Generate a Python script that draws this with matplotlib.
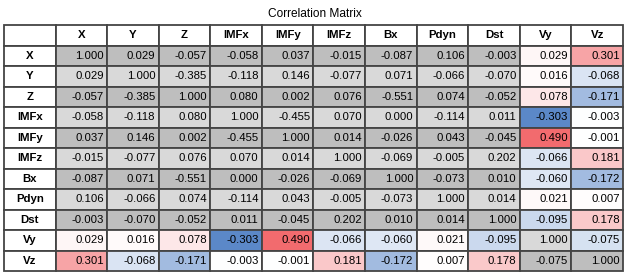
import numpy as np
import matplotlib
matplotlib.use('Agg')
import matplotlib.pyplot as plt
from matplotlib.colors import LinearSegmentedColormap, TwoSlopeNorm

plt.rcParams['font.family'] = ['Liberation Sans', 'DejaVu Sans']

names = ['X', 'Y', 'Z', 'IMFx', 'IMFy', 'IMFz', 'Bx', 'Pdyn', 'Dst', 'Vy', 'Vz']

corr = np.array([
    [1.000, 0.029, -0.057, -0.058, 0.037, -0.015, -0.087, 0.106, -0.003, 0.029, 0.301],
    [0.029, 1.000, -0.385, -0.118, 0.146, -0.077, 0.071, -0.066, -0.070, 0.016, -0.068],
    [-0.057, -0.385, 1.000, 0.080, 0.002, 0.076, -0.551, 0.074, -0.052, 0.078, -0.171],
    [-0.058, -0.118, 0.080, 1.000, -0.455, 0.070, 0.000, -0.114, 0.011, -0.303, -0.003],
    [0.037, 0.146, 0.002, -0.455, 1.000, 0.014, -0.026, 0.043, -0.045, 0.490, -0.001],
    [-0.015, -0.077, 0.076, 0.070, 0.014, 1.000, -0.069, -0.005, 0.202, -0.066, 0.181],
    [-0.087, 0.071, -0.551, 0.000, -0.026, -0.069, 1.000, -0.073, 0.010, -0.060, -0.172],
    [0.106, -0.066, 0.074, -0.114, 0.043, -0.005, -0.073, 1.000, 0.014, 0.021, 0.007],
    [-0.003, -0.070, -0.052, 0.011, -0.045, 0.202, 0.010, 0.014, 1.000, -0.095, 0.178],
    [0.029, 0.016, 0.078, -0.303, 0.490, -0.066, -0.060, 0.021, -0.095, 1.000, -0.075],
    [0.301, -0.068, -0.171, -0.003, -0.001, 0.181, -0.172, 0.007, 0.178, -0.075, 1.000],
])

# cells that get the gray background (rest are colour coded)
n_feat = 9
gray_extra = [(9, 9), (10, 9), (10, 10)]

dark_gray = '#bebebe'
light_gray = '#d9d9d9'
cmap = LinearSegmentedColormap.from_list('bwr_soft', ['#5b88c8', '#ffffff', '#f26b6e'])

n = len(names)
colored = np.ones((n, n), dtype=bool)
colored[:n_feat, :n_feat] = False
for r, c in gray_extra:
    colored[r, c] = False
norm = TwoSlopeNorm(vmin=corr[colored].min(), vcenter=0.0, vmax=corr[colored].max())

cell_text = [[''] + names]
cell_colors = [['white'] * (n + 1)]
for i in range(n):
    row_txt = [names[i]]
    row_col = ['white']
    for j in range(n):
        row_txt.append(f'{corr[i, j]:.3f}')
        if colored[i, j]:
            row_col.append(cmap(norm(corr[i, j])))
        else:
            row_col.append(dark_gray if i % 2 == 0 else light_gray)
    cell_text.append(row_txt)
    cell_colors.append(row_col)

W, H = 629, 278
fig = plt.figure(figsize=(W / 100, H / 100), dpi=100)
ax = fig.add_axes([0, 0, 1, 1])
ax.axis('off')

tbl = ax.table(cellText=cell_text, cellColours=cell_colors, cellLoc='right',
               bbox=[4 / W, (H - 271) / H, 619 / W, 246 / H])
tbl.auto_set_font_size(False)
tbl.set_fontsize(8.2)

for (r, c), cell in tbl.get_celld().items():
    cell.set_edgecolor('#444444')
    cell.set_linewidth(1.3)
    cell.PAD = 0.065
    if r == 0 or c == 0:
        cell.get_text().set_ha('center')
        cell._loc = 'center'
        cell.get_text().set_fontweight('bold')

fig.text(315 / W, 1 - 14 / H, 'Correlation Matrix', ha='center', va='center', fontsize=8.6)

fig.savefig('out.png', dpi=100)
